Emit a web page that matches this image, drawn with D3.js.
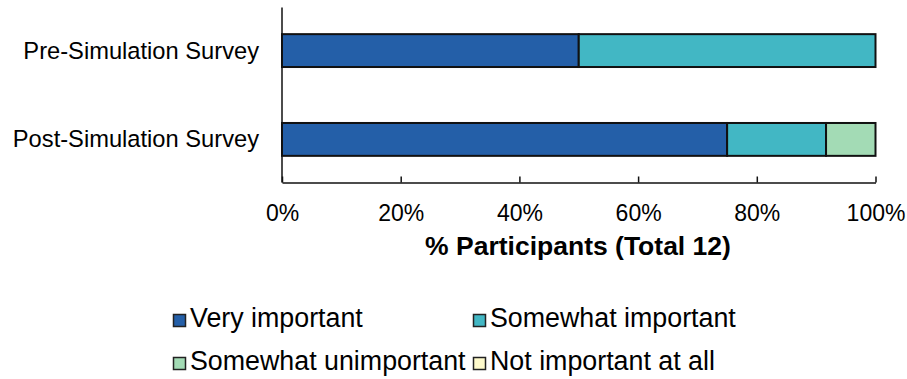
<!DOCTYPE html>
<html>
<head>
<meta charset="utf-8">
<script src="https://cdn.jsdelivr.net/npm/d3@7"></script>
<style>
  html, body { margin: 0; padding: 0; background: #fff; }
  svg { display: block; font-family: "Liberation Sans", Arial, sans-serif; }
</style>
</head>
<body>
<svg id="chart" width="907" height="379"></svg>
<script>
// Survey responses, counts out of 12 participants
const categories = ["Pre-Simulation Survey", "Post-Simulation Survey"];
const seriesNames = ["Very important", "Somewhat important", "Somewhat unimportant", "Not important at all"];
const veryImportant = [6, 9];
const somewhatImportant = [6, 2];
const somewhatUnimportant = [0, 1];
const notImportant = [0, 0];
const totalParticipants = 12;
const tickValues = [0, 0.2, 0.4, 0.6, 0.8, 1.0];
const colors = ["#245FA8", "#42B7C4", "#A3DBB5", "#FFFBCC"];

const seriesValues = [veryImportant, somewhatImportant, somewhatUnimportant, notImportant];
const rows = categories.map((c, i) => {
  const r = { category: c };
  seriesNames.forEach((s, k) => r[s] = seriesValues[k][i] / totalParticipants);
  return r;
});
const stacked = d3.stack().keys(seriesNames)(rows);

const svg = d3.select("#chart");
const plotLeft = 282, plotRight = 875.5, plotTop = 7.5, plotBottom = 182.5;

const x = d3.scaleLinear().domain([0, 1]).range([plotLeft, plotRight]);
const y = d3.scaleBand().domain(categories).range([plotTop, plotBottom]).paddingInner(0.63).paddingOuter(0.3);

// Bars
svg.append("g").selectAll("g")
  .data(stacked)
  .join("g")
  .attr("fill", (d, i) => colors[i])
  .selectAll("rect")
  .data(d => d.filter(p => p[1] - p[0] > 0))
  .join("rect")
  .attr("x", d => x(d[0]))
  .attr("y", d => y(d.data.category))
  .attr("width", d => x(d[1]) - x(d[0]))
  .attr("height", y.bandwidth())
  .attr("stroke", "#111")
  .attr("stroke-width", 2);

// X axis with inward ticks
const xAxis = svg.append("g")
  .attr("transform", `translate(0,${plotBottom})`)
  .call(d3.axisBottom(x).tickValues(tickValues).tickFormat(d3.format(".0%")).tickSizeInner(-6).tickSizeOuter(0));
xAxis.select(".domain").attr("stroke", "#111").attr("stroke-width", 1.5);
xAxis.selectAll(".tick line").attr("stroke", "#111").attr("stroke-width", 1.5);
xAxis.selectAll(".tick text")
  .attr("y", 38)
  .attr("dy", 0)
  .attr("font-size", 23)
  .attr("font-family", "Liberation Sans, Arial, sans-serif")
  .attr("fill", "#000");

// Y axis line and category labels
svg.append("line")
  .attr("x1", plotLeft).attr("x2", plotLeft)
  .attr("y1", plotTop).attr("y2", plotBottom)
  .attr("stroke", "#111").attr("stroke-width", 1.5);

svg.append("g").selectAll("text")
  .data(categories)
  .join("text")
  .attr("x", plotLeft - 23)
  .attr("y", d => y(d) + y.bandwidth() / 2 + 8)
  .attr("text-anchor", "end")
  .attr("font-size", 23.7)
  .attr("fill", "#000")
  .text(d => d);

// Axis title
svg.append("text")
  .attr("x", 578)
  .attr("y", 255)
  .attr("text-anchor", "middle")
  .attr("font-size", 26.5)
  .attr("font-weight", "bold")
  .attr("fill", "#000")
  .text(`% Participants (Total ${totalParticipants})`);

// Legend
const legendPos = [[173, 327], [473, 327], [173, 370], [473, 370]];
const legend = svg.append("g").selectAll("g")
  .data(seriesNames)
  .join("g")
  .attr("transform", (d, i) => `translate(${legendPos[i][0]},${legendPos[i][1]})`);
legend.append("rect")
  .attr("x", 0.5).attr("y", -12.5)
  .attr("width", 12).attr("height", 12)
  .attr("fill", (d, i) => colors[i])
  .attr("stroke", "#222").attr("stroke-width", 1.5);
legend.append("text")
  .attr("x", 17)
  .attr("y", 0)
  .attr("font-size", 26.8)
  .attr("fill", "#000")
  .text(d => d);
</script>
</body>
</html>
